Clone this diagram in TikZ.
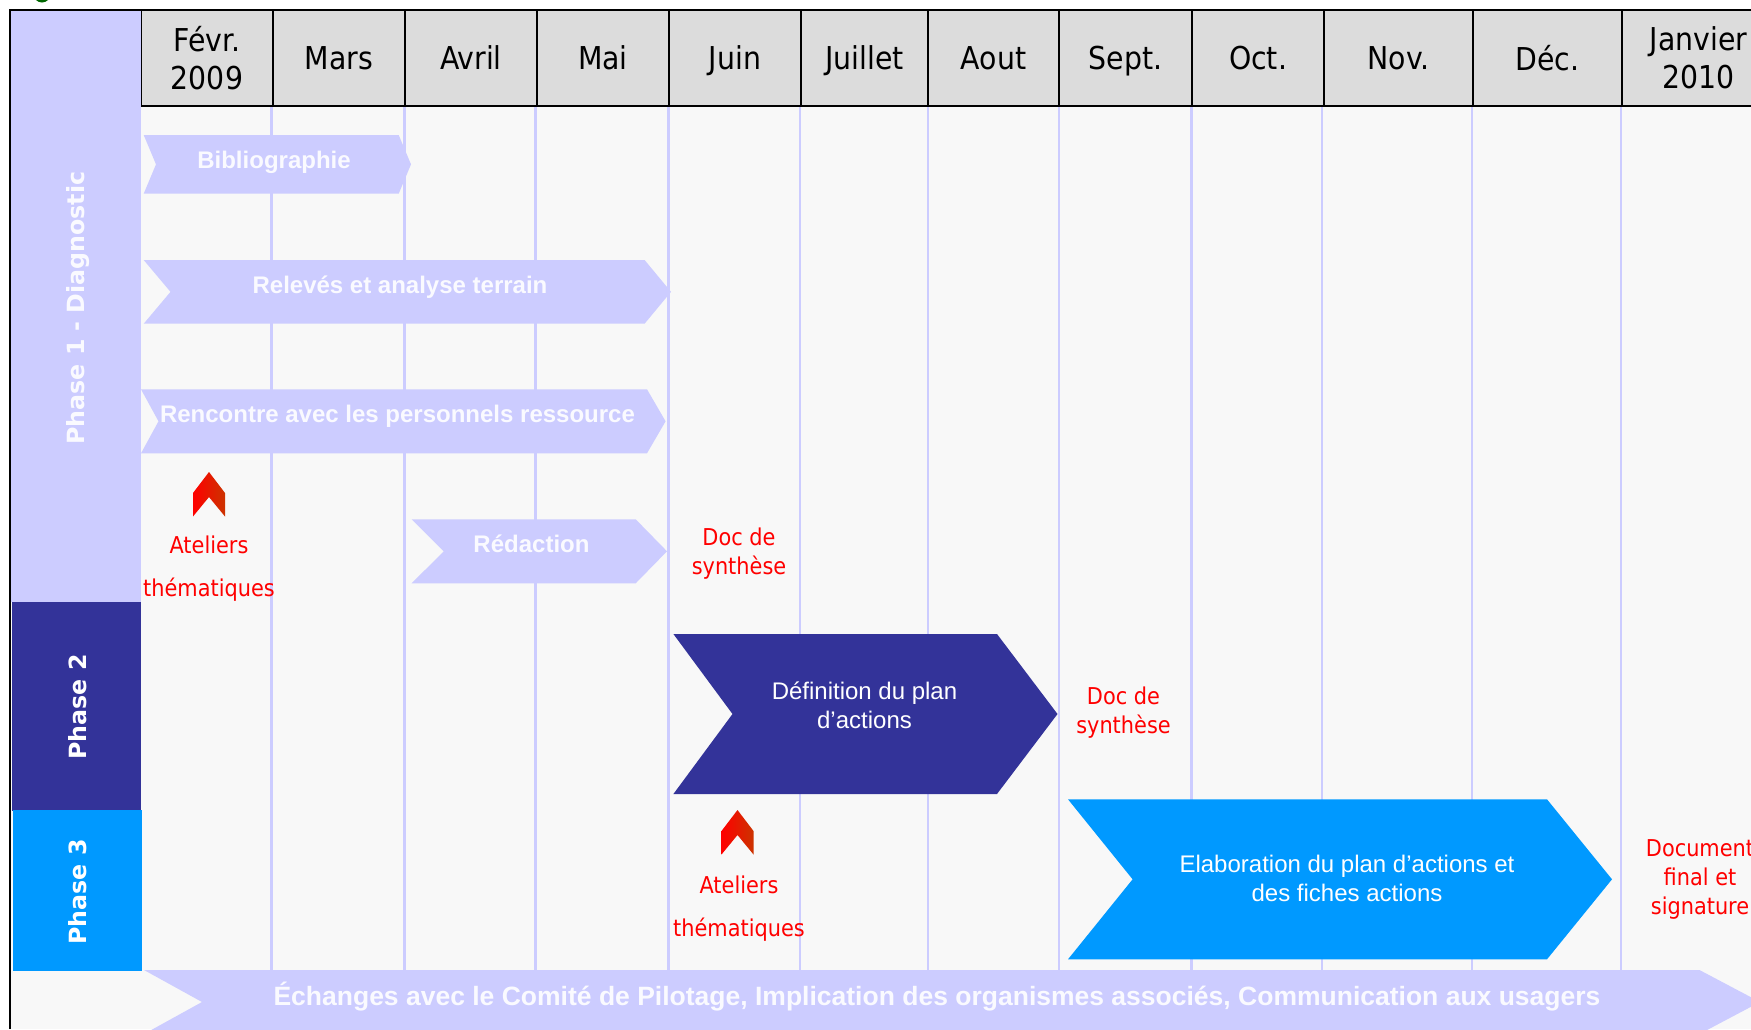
\documentclass[tikz,border=0pt]{standalone}
\usepackage{fontspec}
\setmainfont{Liberation Sans}
\newfontfamily\headfont{DejaVu Sans Condensed}
\newfontfamily\phasefont{DejaVu Sans}
\usepackage{xcolor}
\usetikzlibrary{shapes}
\definecolor{lilac}{HTML}{CCCCFF}
\definecolor{darkblue}{HTML}{333399}
\definecolor{skyblue}{HTML}{0099FF}
\definecolor{headgrey}{HTML}{DCDCDC}
\definecolor{paper}{HTML}{F8F8F8}
\definecolor{palewhite}{HTML}{FAFAFF}
\definecolor{rust}{HTML}{CC3300}
\tikzset{
	head node/.style={align=center,inner sep=0pt,text=black,font=\headfont\fontsize{31.5}{38}\selectfont},
	phase node/.style={rotate=90,inner sep=0pt,font=\phasefont\bfseries\fontsize{23.7}{27}\selectfont},
	task node/.style={align=center,inner sep=0pt,text=palewhite,font=\bfseries\fontsize{24}{28}\selectfont},
	plain node/.style={align=center,inner sep=0pt,text=white,font=\fontsize{24}{28.5}\selectfont},
	red node/.style={align=center,inner sep=0pt,text=red,font=\headfont\fontsize{23.2}{29}\selectfont},
	atelier/.style={left color=red,right color=rust}
}
\begin{document}
\begin{tikzpicture}[x=1pt,y=-1pt]
	\useasboundingbox (0,0) rectangle (1751,1029);
	\fill[white] (0,0) rectangle (1751,1029);
	\fill[green!40!black] (42,-6) circle (8.5);
	\fill[paper] (11,107) rectangle (1751,1029);
	% vertical month lines
	\foreach \x in {271.5,404.5,535.5,668.5,800,928,1059,1191.5,1322,1472,1621}
		\draw[lilac,line width=2.2pt] (\x,106) -- (\x,970);
	% header cells
	\fill[headgrey] (141,10) rectangle (1751,106);
	\foreach \a/\b/\name/\txt in {141/273/feb/{Févr.\\2009},273/405/mar/Mars,405/537/apr/Avril,537/669/may/Mai,669/801/jun/Juin,801/928/jul/Juillet,928/1059/aug/Aout,1059/1192/sep/Sept.,1192/1324/oct/Oct.,1324/1473/nov/Nov.,1473/1622/dec/Déc.,1622/1775/jan/{Janvier\\2010}} {
		\draw[black,line width=1.8pt] (\a,10) rectangle (\b,106);
		\node[head node,text depth=7pt] (\name) at ({(\a+\b)/2},61.5) {\txt};
	}
	\draw[black,line width=2pt] (10,10) -- (141,10);
	\draw[black,line width=2.2pt] (10,9) -- (10,1029);
	% phases
	\fill[lilac] (11,11) rectangle (141,602);
	\fill[darkblue] (12,602) rectangle (141,811);
	\fill[skyblue] (13,810) rectangle (142,971);
	\node[phase node,text=palewhite] (p1) at (78,308) {Phase 1 - Diagnostic};
	\node[phase node,text=white] (p2) at (78,707) {Phase 2};
	\node[phase node,text=white] (p3) at (78,892) {Phase 3};
	% chevrons: left/notch/shoulder/tip/top/bottom/colour
	\foreach \l/\n/\s/\t/\u/\d/\c in {143.7/156/398.7/411/135/193.7/lilac,143.7/170.5/644.6/671/260/323.7/lilac,141/158.5/647/665.6/389.3/453.3/lilac,411.6/443.8/635.7/667/519.3/583.3/lilac,673.4/732.5/997/1057.5/634/794/darkblue,1068/1132.6/1547/1612/799.3/959.3/skyblue,144/202/1699.5/1760/970/1034/lilac}
		\fill[\c] (\l,\u) -- (\s,\u) -- (\t,{(\u+\d)/2}) -- (\s,\d) -- (\l,\d) -- (\n,{(\u+\d)/2}) -- cycle;
	\node[task node] (biblio) at (274,162) {Bibliographie};
	\node[task node] (releves) at (400,287) {Relevés et analyse terrain};
	\node[task node] (rencontre) at (397.5,416) {Rencontre avec les personnels ressource};
	\node[task node] (redaction) at (531.5,544) {Rédaction};
	\node[plain node] (plan) at (864.5,705.5) {Définition du plan\\d’actions};
	\node[plain node] (fiches) at (1347,878.5) {Elaboration du plan d’actions et\\des fiches actions};
	\node[task node,font=\bfseries\fontsize{26.5}{30}\selectfont] (echanges) at (937,997) {Échanges avec le Comité de Pilotage, Implication des organismes associés, Communication aux usagers};
	% small arrows
	\foreach \x/\y in {209/472,737.5/810}
		\shade[atelier] (\x,\y) -- (\x+16,\y+21) -- (\x+16,\y+44.5) -- (\x,\y+25) -- (\x-16,\y+44.5) -- (\x-16,\y+21) -- cycle;
	% red labels
	\node[red node,font=\headfont\fontsize{23.2}{43}\selectfont] (at1) at (209,568.5) {Ateliers\\thématiques};
	\node[red node,font=\headfont\fontsize{23.2}{43}\selectfont] (at2) at (739,909) {Ateliers\\thématiques};
	\node[red node] (doc1) at (739,553.5) {Doc de\\synthèse};
	\node[red node] (doc2) at (1123.5,713) {Doc de\\synthèse};
	\node[red node] (doc3) at (1700,879.5) {Document\\final et\\signature};
\end{tikzpicture}
\end{document}
